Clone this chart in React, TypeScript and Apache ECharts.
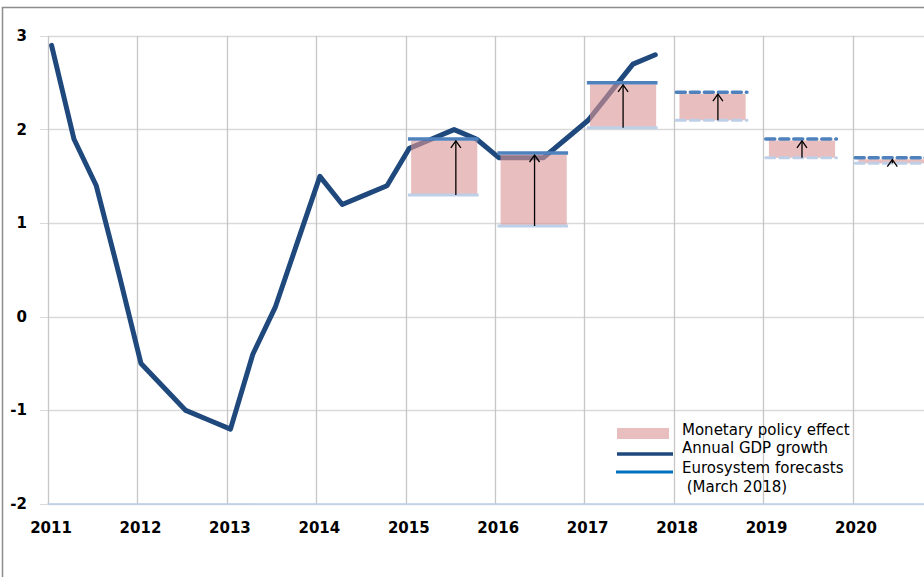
import React, { useEffect, useRef } from 'react';
import * as echarts from 'echarts';

// Quarterly annual GDP growth, 2011Q1 .. 2017Q4
const quarterLabels = [
  '2011Q1', '2011Q2', '2011Q3', '2011Q4',
  '2012Q1', '2012Q2', '2012Q3', '2012Q4',
  '2013Q1', '2013Q2', '2013Q3', '2013Q4',
  '2014Q1', '2014Q2', '2014Q3', '2014Q4',
  '2015Q1', '2015Q2', '2015Q3', '2015Q4',
  '2016Q1', '2016Q2', '2016Q3', '2016Q4',
  '2017Q1', '2017Q2', '2017Q3', '2017Q4',
];
const gdpGrowth = [
  2.9, 1.9, 1.4, 0.47,
  -0.5, -0.75, -1.0, -1.1,
  -1.2, -0.4, 0.1, 0.8,
  1.5, 1.2, 1.3, 1.4,
  1.8, 1.9, 2.0, 1.9,
  1.7, 1.7, 1.7, 1.9,
  2.1, 2.4, 2.7, 2.8,
];

// Eurosystem forecasts with / without monetary policy effect
const forecastYears = [2015, 2016, 2017, 2018, 2019, 2020];
const forecastLower = [1.3, 0.97, 2.02, 2.1, 1.7, 1.64];
const forecastUpper = [1.9, 1.75, 2.5, 2.4, 1.9, 1.7];
const arrowOffset = [0.56, 0.44, 0.43, 0.49, 0.43, 0.44];
const forecastIsProjection = [0, 0, 0, 1, 1, 1];

const yTicks = { min: -2, max: 3, interval: 1 };
const xRange = { min: 2011, max: 2021 };

const legendItems = [
  'Monetary policy effect',
  'Annual GDP growth',
  'Eurosystem forecasts',
  ' (March 2018)',
];

const PINK = 'rgba(220,150,150,0.62)';
const FONT = "'DejaVu Sans', Verdana, sans-serif";

function quarterToX(label: string): number {
  const year = parseInt(label.slice(0, 4), 10);
  const q = parseInt(label.slice(5), 10);
  return year + (q - 1) * 0.25 + 0.04;
}

export default function App() {
  const ref = useRef<HTMLDivElement>(null);

  useEffect(() => {
    if (!ref.current) return;
    const chart = echarts.init(ref.current, null, { renderer: 'svg' });

    const lineData = quarterLabels.map((q, i) => [quarterToX(q), gdpGrowth[i]]);
    const forecastData = forecastYears.map((y, i) => [
      y,
      forecastLower[i],
      forecastUpper[i],
      y + arrowOffset[i],
      forecastIsProjection[i],
    ]);

    const renderForecast = (params: any, api: any) => {
      const year = api.value(0);
      const lo = api.value(1);
      const hi = api.value(2);
      const ax = api.value(3);
      const dashed = api.value(4) === 1;
      const xLineL = api.coord([year + 0.025, lo])[0];
      const xLineR = api.coord([year + 0.815, lo])[0];
      const xRectL = api.coord([year + 0.06, lo])[0];
      const xRectR = api.coord([year + 0.8, lo])[0];
      const yLo = api.coord([year, lo])[1];
      const yHi = api.coord([year, hi])[1];
      const xa = api.coord([ax, lo])[0];
      const dash = dashed ? [9, 5] : null;
      return {
        type: 'group',
        children: [
          {
            type: 'rect',
            shape: { x: xRectL, y: yHi + 1.5, width: xRectR - xRectL, height: yLo - yHi - 1.5 },
            style: { fill: PINK },
          },
          {
            type: 'line',
            shape: { x1: xLineL, y1: yLo, x2: xLineR, y2: yLo },
            style: { stroke: '#bed0e8', lineWidth: 3, lineDash: dash, lineCap: dashed ? 'round' : 'butt' },
          },
          {
            type: 'line',
            shape: { x1: xLineL, y1: yHi, x2: xLineR, y2: yHi },
            style: { stroke: '#4f81bd', lineWidth: 3.5, lineDash: dash, lineCap: dashed ? 'round' : 'butt' },
          },
          {
            type: 'line',
            shape: { x1: xa, y1: yLo, x2: xa, y2: yHi + 2 },
            style: { stroke: '#000', lineWidth: 1.3 },
          },
          {
            type: 'polyline',
            shape: { points: [[xa - 5, yHi + 9], [xa, yHi + 2], [xa + 5, yHi + 9]] },
            style: { stroke: '#000', lineWidth: 1.3, fill: 'none' },
          },
        ],
      };
    };

    const legendX = 682;
    const legendY = [430, 448, 468, 487];

    chart.setOption({
      animation: false,
      backgroundColor: '#fff',
      grid: {
        left: 48,
        top: 36,
        width: 894.4,
        height: 468,
        containLabel: false,
        outerBoundsMode: 'none',
      },
      xAxis: {
        type: 'value',
        min: xRange.min,
        max: xRange.max,
        interval: 1,
        axisLine: { show: true, onZero: false, lineStyle: { color: '#bcd0e6', width: 1.5 } },
        axisTick: { show: false },
        splitLine: { show: true, lineStyle: { color: '#c6c6c6', width: 1.3 } },
        axisLabel: {
          formatter: (v: number) => (v >= xRange.max ? '' : String(v)),
          fontFamily: FONT,
          fontWeight: 'bold',
          fontSize: 15,
          color: '#000',
          margin: 16,
          padding: [0, 0, 0, 6],
        },
      },
      yAxis: {
        type: 'value',
        min: yTicks.min,
        max: yTicks.max,
        interval: yTicks.interval,
        axisLine: { show: false },
        axisTick: { show: true, length: 8, lineStyle: { color: '#d9d9d9' } },
        splitLine: { show: true, lineStyle: { color: '#d9d9d9', width: 1.3 } },
        axisLabel: {
          formatter: (v: number) => String(v),
          fontFamily: FONT,
          fontWeight: 'bold',
          fontSize: 15,
          color: '#000',
          margin: 21,
        },
      },
      series: [
        {
          type: 'line',
          name: 'Annual GDP growth',
          data: lineData,
          symbol: 'none',
          lineStyle: { color: '#1f497d', width: 5, cap: 'round', join: 'round' },
          z: 2,
        },
        {
          type: 'custom',
          name: 'Eurosystem forecasts',
          data: forecastData,
          renderItem: renderForecast,
          encode: { x: 0, y: [1, 2] },
          clip: false,
          z: 3,
        },
      ],
      graphic: [
        {
          type: 'rect',
          silent: true,
          x: 2.5,
          y: 7.5,
          shape: { x: 0, y: 0, width: 1000, height: 800 },
          style: { fill: 'none', stroke: '#8c8c8c', lineWidth: 1.5 },
          z: 10,
        },
        {
          type: 'rect',
          silent: true,
          shape: { x: 617, y: 428, width: 52, height: 11 },
          style: { fill: PINK },
          z: 10,
        },
        {
          type: 'line',
          silent: true,
          shape: { x1: 617, y1: 454, x2: 673, y2: 454 },
          style: { stroke: '#1f497d', lineWidth: 3.5 },
          z: 10,
        },
        {
          type: 'line',
          silent: true,
          shape: { x1: 616, y1: 472, x2: 673, y2: 472 },
          style: { stroke: '#0070c0', lineWidth: 3 },
          z: 10,
        },
        ...legendItems.map((t, i) => ({
          type: 'text',
          silent: true,
          x: legendX,
          y: legendY[i],
          style: {
            text: t,
            fontFamily: FONT,
            fontSize: 15,
            fill: '#000',
            verticalAlign: 'middle',
            align: 'left',
          },
          z: 10,
        })),
      ],
    });

    return () => chart.dispose();
  }, []);

  return (
    <div
      ref={ref}
      style={{ position: 'absolute', left: 0, top: 0, width: 924, height: 577, background: '#fff' }}
    />
  );
}
